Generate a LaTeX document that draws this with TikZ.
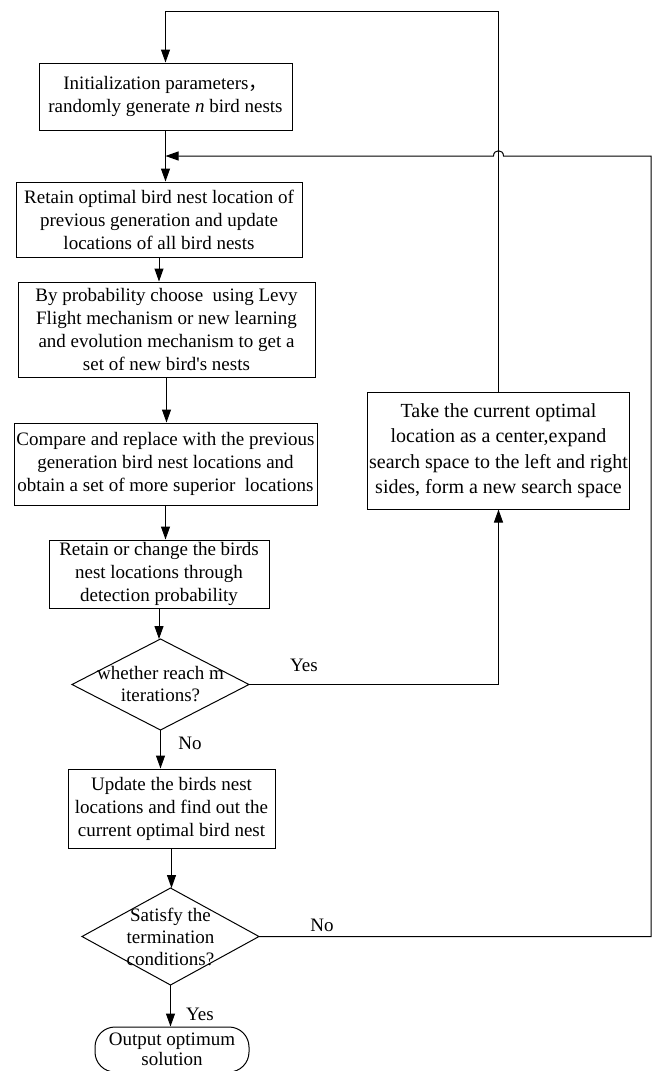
\documentclass[tikz,border=0pt]{standalone}
\usepackage{fontspec}
\setmainfont{Liberation Serif}
\newfontfamily\cjk{Noto Sans CJK SC}
\usepackage{tikz}
\usetikzlibrary{positioning,shapes.geometric,arrows.meta,calc}
\newcommand{\boxfont}{\fontsize{19}{23}\selectfont}
\newcommand{\bigboxfont}{\fontsize{20}{25.5}\selectfont}
\tikzset{
	line/.style={draw=black, line width=1pt},
	procbox/.style={line, rectangle, align=center, inner sep=1pt, font=\boxfont},
	decision/.style={line, diamond, align=center, inner sep=-12pt, outer sep=0pt, font=\fontsize{19}{22}\selectfont},
	terminal/.style={line, rectangle, rounded corners=20pt, align=center, inner sep=1pt, font=\fontsize{19}{20.5}\selectfont},
	arr/.style={line, -{Triangle[length=13pt,width=9pt]}},
	lbl/.style={font=\boxfont, inner sep=0pt}
}

\begin{document}
\begin{tikzpicture}[x=1pt, y=-1pt]
	\useasboundingbox (0,0) rectangle (653,1071);
	% main column
	\node[procbox, minimum width=253, minimum height=67] (init) at (165.5,96.5)
		{Initialization parameters{\cjk ，}\\randomly generate \textit{n} bird nests};
	\node[procbox, minimum width=286, minimum height=75] (retain) at (159,219.5)
		{Retain optimal bird nest location of\\previous generation and update\\locations of all bird nests};
	\node[procbox, minimum width=297, minimum height=95] (levy) at (166.5,329.5)
		{By probability choose\ \ using Levy\\Flight mechanism or new learning\\and evolution mechanism to get a\\set of new bird\textquotesingle s nests};
	\node[procbox, minimum width=303, minimum height=82] (compare) at (165.5,464)
		{Compare and replace with the previous\\generation bird nest locations and\\obtain a set of more superior\ \ locations};
	\node[procbox, minimum width=220, minimum height=68] (detect) at (159,574)
		{Retain or change the birds\\nest locations through\\detection probability};
	\node[decision, minimum width=177, minimum height=91, aspect=1.95] (iter) at (160.5,684.5)
		{whether reach m\\iterations?};
	\node[procbox, minimum width=207, minimum height=79] (update) at (171.5,808.5)
		{Update the birds nest\\locations and find out the\\current optimal bird nest};
	\node[decision, minimum width=177, minimum height=97, aspect=1.83] (stop) at (170.5,936.5)
		{Satisfy the\\termination\\conditions?};
	\node[terminal, minimum width=154, minimum height=45] (output) at (172,1049.5)
		{Output optimum\\solution};
	% right column
	\node[procbox, minimum width=262, minimum height=117, font=\bigboxfont] (expand) at (498.5,450.5)
		{Take the current optimal\\location as a center,expand\\search space to the left and right\\sides, form a new search space};
	% labels
	\node[lbl] (yes1) at (304,665) {Yes};
	\node[lbl] (no1) at (190,743) {No};
	\node[lbl] (no2) at (322,925) {No};
	\node[lbl] (yes2) at (200,1014) {Yes};
	% helper points for the loops
	\coordinate (top) at (0,11);
	\coordinate (fb) at (0,156);
	\coordinate (rgt) at (651,0);
	\coordinate (hop) at (expand.north |- fb);
	% connectors
	\draw[arr] (init.south) -- (init.south |- retain.north);
	\draw[arr] (retain.south) -- (retain.south |- levy.north);
	\draw[arr] (levy.south) -- (levy.south |- compare.north);
	\draw[arr] (compare.south) -- (compare.south |- detect.north);
	\draw[arr] (detect.south) -- (detect.south |- iter.north);
	\draw[arr] (iter.south) -- (iter.south |- update.north);
	\draw[arr] (update.south) -- (update.south |- stop.north);
	\draw[arr] (stop.south) -- (stop.south |- output.north);
	\draw[arr] (iter.east) -| (expand.south);
	\draw[arr] (expand.north) -- (expand.north |- top) -| (init.north);
	\draw[arr] (stop.east) -- (stop.east -| rgt) -- (rgt |- fb)
		-- ($(hop)+(5,0)$) .. controls ($(hop)+(5,-7)$) and ($(hop)+(-5,-7)$) .. ($(hop)+(-5,0)$)
		-- (init.south |- fb);
\end{tikzpicture}
\end{document}
